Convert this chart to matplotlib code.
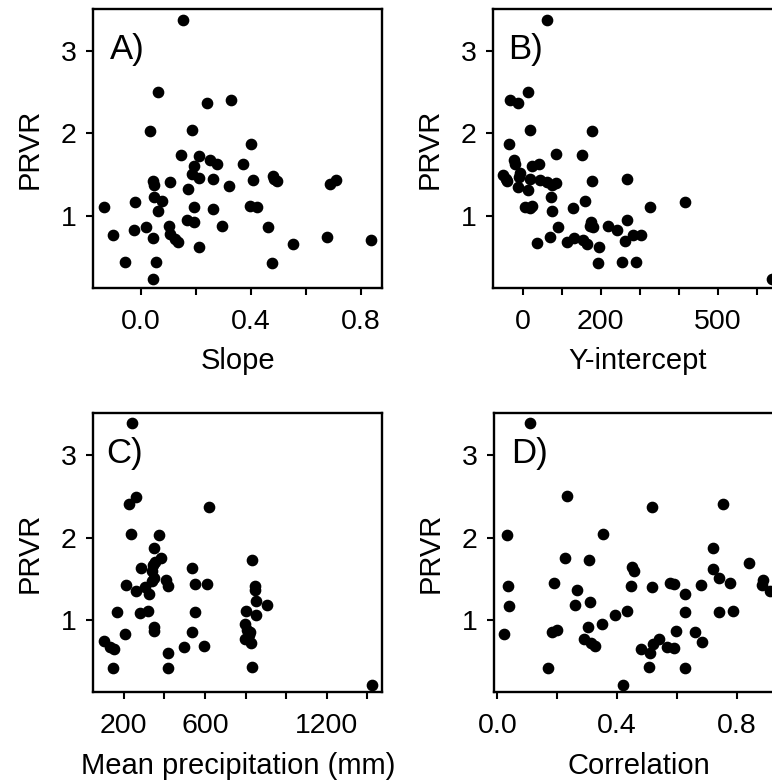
import matplotlib
matplotlib.use("Agg")
import matplotlib.pyplot as plt

# ---- data ----
slope = [0.152, 0.062, 0.240, 0.328, 0.034, 0.188, 0.401, 0.148, 0.211, 0.252,
         0.276, 0.373, 0.195, 0.188, 0.213, 0.261, 0.407, 0.480, 0.486, 0.497,
         0.688, 0.710, 0.044, 0.048, 0.107, 0.322, 0.171, 0.050, 0.076, -0.021,
         -0.133, 0.062, 0.194, 0.264, 0.398, 0.424, 0.167, 0.195, 0.103, 0.019,
         -0.023, -0.102, 0.107, 0.046, 0.126, 0.137, 0.296, 0.462, 0.211, 0.552,
         0.676, 0.836, -0.057, 0.056, 0.476, 0.046]
prvr_a = [3.378, 2.496, 2.362, 2.402, 2.024, 2.045, 1.866, 1.740, 1.728, 1.679,
          1.622, 1.622, 1.598, 1.508, 1.455, 1.439, 1.435, 1.480, 1.439, 1.415,
          1.386, 1.427, 1.415, 1.374, 1.402, 1.354, 1.317, 1.224, 1.183, 1.163,
          1.110, 1.061, 1.102, 1.085, 1.122, 1.102, 0.951, 0.919, 0.878, 0.858,
          0.825, 0.764, 0.776, 0.724, 0.715, 0.675, 0.878, 0.858, 0.614, 0.654,
          0.736, 0.707, 0.439, 0.431, 0.423, 0.224]

intercept = [63, 14, -32, -12, 20, 179, -34, 87, 153, -23,
             -19, 24, 41, -49, -42, -39, -6, -8, 20, 46,
             63, 76, 87, 177, 267, -12, 15, 73, 159, 7,
             20, 24, 75, 130, 327, 417, 90, 176, 173, 181,
             218, 243, 268, 37, 70, 114, 133, 155, 166, 196,
             262, 284, 304, 194, 256, 291, 639]
prvr_b = [3.378, 2.496, 2.402, 2.362, 2.045, 2.024, 1.866, 1.744, 1.732, 1.679,
          1.622, 1.602, 1.622, 1.496, 1.447, 1.415, 1.520, 1.467, 1.439, 1.427,
          1.407, 1.374, 1.394, 1.415, 1.439, 1.346, 1.313, 1.224, 1.183, 1.102,
          1.093, 1.114, 1.061, 1.093, 1.110, 1.163, 0.858, 0.919, 0.870, 0.858,
          0.874, 0.825, 0.947, 0.663, 0.736, 0.675, 0.728, 0.707, 0.654, 0.614,
          0.695, 0.768, 0.768, 0.423, 0.439, 0.439, 0.228]

precip = [241, 258, 225, 622, 238, 373, 348, 833, 381, 356,
          345, 285, 537, 340, 348, 340, 410, 416, 213, 307,
          550, 608, 844, 846, 258, 324, 849, 907, 849, 803,
          167, 282, 320, 550, 795, 805, 821, 348, 348, 208,
          537, 101, 134, 154, 795, 828, 419, 499, 595, 147,
          419, 830, 1420, 816]
prvr_c = [3.394, 2.499, 2.409, 2.376, 2.047, 2.027, 1.875, 1.731, 1.752, 1.698,
          1.665, 1.628, 1.628, 1.595, 1.513, 1.472, 1.480, 1.411, 1.419, 1.398,
          1.431, 1.439, 1.411, 1.361, 1.349, 1.316, 1.226, 1.185, 1.062, 1.111,
          1.094, 1.082, 1.111, 1.094, 0.951, 0.877, 0.856, 0.918, 0.864, 0.823,
          0.856, 0.741, 0.671, 0.651, 0.766, 0.725, 0.602, 0.671, 0.680, 0.417,
          0.417, 0.433, 0.212, 0.815]

corr = [0.111, 0.234, 0.755, 0.517, 0.033, 0.352, 0.720, 0.226, 0.308, 0.840,
        0.449, 0.457, 0.722, 0.742, 0.887, 0.778, 0.037, 0.189, 0.577, 0.590,
        0.447, 0.517, 0.680, 0.885, 0.911, 0.265, 0.626, 0.040, 0.261, 0.310,
        0.432, 0.394, 0.626, 0.742, 0.789, 0.023, 0.182, 0.198, 0.304, 0.350,
        0.599, 0.661, 0.290, 0.312, 0.328, 0.482, 0.510, 0.519, 0.540, 0.568,
        0.590, 0.684, 0.169, 0.508, 0.626, 0.421]
prvr_d = [3.394, 2.507, 2.409, 2.376, 2.027, 2.047, 1.871, 1.747, 1.731, 1.690,
          1.637, 1.595, 1.624, 1.513, 1.485, 1.452, 1.411, 1.444, 1.444, 1.439,
          1.411, 1.398, 1.423, 1.419, 1.349, 1.361, 1.316, 1.164, 1.185, 1.218,
          1.103, 1.062, 1.094, 1.090, 1.111, 0.823, 0.856, 0.873, 0.914, 0.947,
          0.864, 0.856, 0.766, 0.713, 0.684, 0.651, 0.602, 0.704, 0.762, 0.667,
          0.659, 0.733, 0.417, 0.433, 0.417, 0.212]

plt.rcParams['font.family'] = ['Liberation Sans', 'DejaVu Sans']

W, H = 772, 782
fig = plt.figure(figsize=(W / 100, H / 100), dpi=100)

# (left px, top px, x, y, xlim, ticks, labelled ticks, fmt, xlabel, tag, tag x frac)
panels = [
    (93, 9, slope, prvr_a, (-0.1735, 0.877), [0.0, 0.2, 0.4, 0.6, 0.8],
     [0.0, 0.4, 0.8], "{:.1f}", "Slope", "A)", 0.060),
    (493.3, 9, intercept, prvr_b, (-75, 666), [0, 100, 200, 300, 400, 500, 600],
     [0, 200, 500], "{:.0f}", "Y-intercept", "B)", 0.050),
    (93.3, 413.3, precip, prvr_c, (50, 1473), [200, 400, 600, 800, 1000, 1200, 1400],
     [200, 600, 1200], "{:.0f}", "Mean precipitation (mm)", "C)", 0.046),
    (494, 413.3, corr, prvr_d, (-0.011, 0.955), [0.0, 0.2, 0.4, 0.6, 0.8],
     [0.0, 0.4, 0.8], "{:.1f}", "Correlation", "D)", 0.060),
]
aw, ah = 289, 279

for left, top, xs, ys, xlim, ticks, shown, fmt, xlab, tag, tx in panels:
    ax = fig.add_axes([left / W, 1 - (top + ah) / H, aw / W, ah / H])
    ax.plot(xs, ys, 'o', color='black', ms=7.4, mec='black', clip_on=False)
    ax.set_xlim(*xlim)
    ax.set_ylim(0.12, 3.51)
    ax.set_xticks(ticks)
    ax.set_xticklabels([fmt.format(t) if t in shown else "" for t in ticks])
    ax.set_yticks([1, 2, 3])
    ax.set_yticklabels(["1", "2", "3"])
    for s in ax.spines.values():
        s.set_linewidth(1.7)
    ax.tick_params(axis='both', length=5, width=1.5, labelsize=20.5)
    ax.tick_params(axis='x', pad=10)
    ax.tick_params(axis='y', pad=7)
    ax.set_xlabel(xlab, fontsize=21, labelpad=9)
    ax.set_ylabel("PRVR", fontsize=21, labelpad=12)
    ax.text(tx, 0.856, tag, transform=ax.transAxes, fontsize=25,
            ha='left', va='center')

fig.savefig("out.png", dpi=100)
